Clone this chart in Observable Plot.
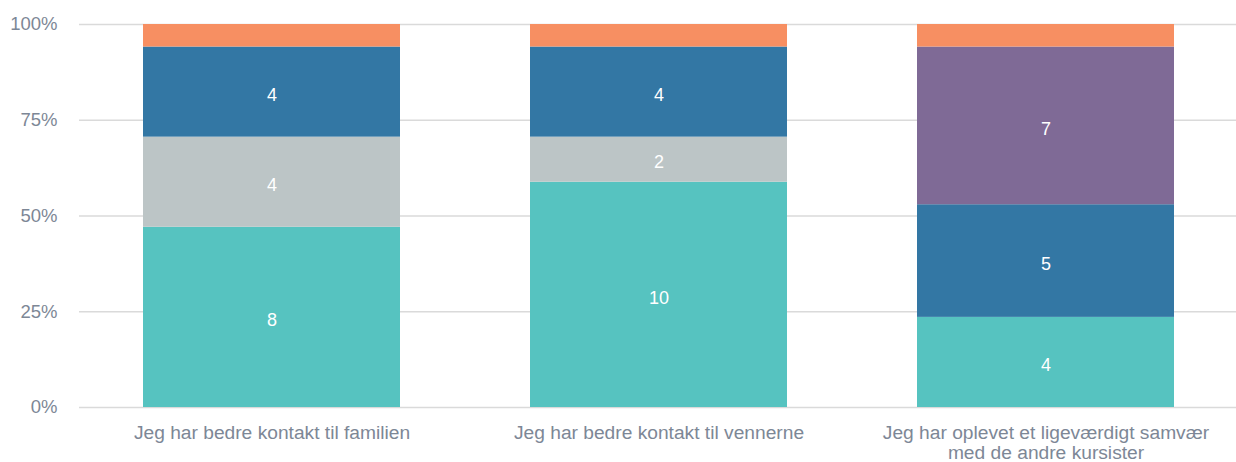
<!DOCTYPE html>
<html>
<head>
<meta charset="utf-8">
<script src="https://cdn.jsdelivr.net/npm/d3@7"></script>
<script src="https://cdn.jsdelivr.net/npm/@observablehq/plot@0.6"></script>
<style>
  html, body { margin: 0; padding: 0; background: #fff; }
  #chart { width: 1236px; height: 462px; }
</style>
</head>
<body>
<div id="chart"></div>
<script>
const categories = [
  "Jeg har bedre kontakt til familien",
  "Jeg har bedre kontakt til vennerne",
  "Jeg har oplevet et ligeværdigt samvær\nmed de andre kursister"
];
const seriesNames = ["A", "B", "C", "D", "E"];
const seriesColors = ["#56c3c0", "#bcc5c6", "#3377a4", "#7f6a96", "#f78f62"];
const valuesA = [8, 10, 4];
const valuesB = [4, 2, 0];
const valuesC = [4, 4, 5];
const valuesD = [0, 0, 7];
const valuesE = [1, 1, 1];
const yTicks = [0, 0.25, 0.5, 0.75, 1];

const allValues = [valuesA, valuesB, valuesC, valuesD, valuesE];
const rows = [];
categories.forEach((cat, i) => {
  seriesNames.forEach((s, j) => {
    const v = allValues[j][i];
    if (v > 0) rows.push({cat, series: s, value: v});
  });
});

const font = "'Liberation Sans', Arial, sans-serif";
const stackOpts = {x: "cat", y: "value", z: "series", order: seriesNames, offset: "normalize"};

const chart = Plot.plot({
  width: 1236,
  height: 462,
  marginLeft: 79,
  marginRight: 0,
  marginTop: 24,
  marginBottom: 55,
  style: {fontFamily: font, background: "#fff"},
  x: {domain: categories, range: [78, 1239], paddingInner: 0.336, paddingOuter: 0.168, label: null},
  y: {domain: [0, 1], ticks: yTicks, label: null},
  color: {domain: seriesNames, range: seriesColors},
  marks: [
    Plot.ruleY(yTicks, {stroke: "#dadada", strokeWidth: 1.3}),
    Plot.barY(rows, Plot.stackY({...stackOpts, fill: "series"})),
    Plot.text(rows, Plot.stackY({
      ...stackOpts,
      text: d => d.value > 1 ? String(d.value) : "",
      fill: "#ffffff",
      fontSize: 18,
      dy: 3
    })),
    Plot.axisY({
      ticks: yTicks,
      tickFormat: d => Math.round(d * 100) + "%",
      tickSize: 0,
      tickPadding: 22,
      fontSize: 18.5,
      fill: "#7d8796",
      label: null
    }),
    Plot.axisX({
      tickSize: 0,
      tickPadding: 17,
      fontSize: 19.2,
      lineHeight: 1.06,
      fill: "#7d8796",
      label: null
    })
  ]
});
document.getElementById("chart").appendChild(chart);
</script>
</body>
</html>
